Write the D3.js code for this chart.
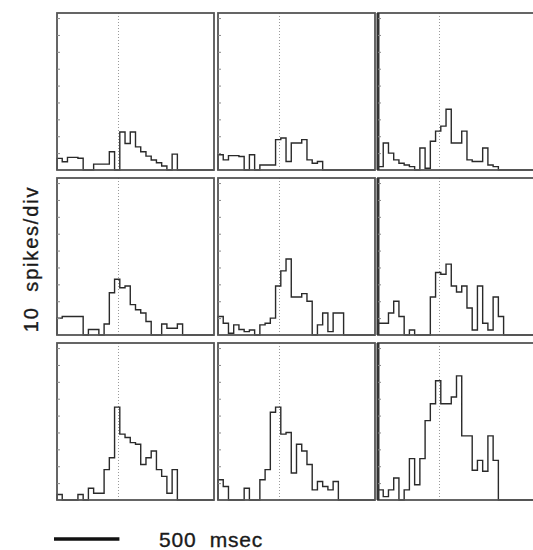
<!DOCTYPE html>
<html>
<head>
<meta charset="utf-8">
<script src="https://cdn.jsdelivr.net/npm/d3@7/dist/d3.min.js"></script>
<style>
  body { margin: 0; background: #fff; }
  text { font-family: "Liberation Sans", Arial, sans-serif; fill: #1a1a1a; stroke: #1a1a1a; stroke-width: 0.35; }
</style>
</head>
<body>
<svg id="chart" width="533" height="550"></svg>
<script>
// time axis of each histogram (msec)
var binMs = 40;
var spanMs = 1200;
var eventMs = 470;
var scaleBarMs = 500;
// spike rate axis
var divTicks = [10, 20, 30, 40, 50, 60, 70, 80, 90];
var rateMax = 93;

// spikes/s per 40 ms bin, panels read row by row
var p1 = [6.9, 4.9, 7.5, 7.5, 7, 0, 0, 3.5, 3.5, 3.5, 10.8, 0, 22.5, 15.7, 22.5, 13.7, 10.8, 8.2, 5.9, 4.3, 2.4, 0, 9.4, 0, 0, 0, 0, 0, 0, 0];
var p2 = [9, 6, 8.5, 8.5, 8, 0, 9, 0, 3, 3, 3, 18, 19, 5, 16, 16, 18, 6, 4, 5, 0, 0, 0, 0, 0, 0, 0, 0, 0, 0];
var p3 = [2, 16, 10, 6, 4, 3, 2, 0, 13, 1, 17, 23, 26, 36, 16, 16, 23, 6, 5, 5, 13, 3, 2, 0, 0, 0, 0, 0, 0, 0];
var p4 = [10, 11, 11, 11, 11, 0, 3.3, 3.3, 0, 6.5, 25, 33, 28, 29, 18, 15, 13, 8, 0, 0, 6.5, 4, 4, 6.5, 0, 0, 0, 0, 0, 0];
var p5 = [11, 7, 1, 6, 3.3, 2, 3, 0, 6, 7, 10, 29, 38, 45, 22.5, 22.5, 24.5, 20, 0, 6, 13, 2, 13, 13, 0, 0, 0, 0, 0, 0];
var p6 = [7, 7, 13, 20, 11, 0, 3, 0, 0, 0, 22.5, 37, 36, 42, 29, 25.5, 29, 16, 3, 29, 7, 3, 22.5, 11, 0, 0, 0, 0, 0, 0];
var p7 = [3.3, 0, 0, 0, 3.3, 0, 7, 4, 4, 18, 25, 55, 39, 37, 34, 33, 21, 25, 29, 18, 14, 4, 18, 0, 0, 0, 0, 0, 0, 0];
var p8 = [12, 8, 0, 0, 0, 7, 0, 0, 12, 18, 52, 55, 39, 40, 16, 33, 29, 21, 6, 11, 8, 6, 11, 0, 0, 0, 0, 0, 0, 0];
var p9 = [6, 2, 6, 13, 0, 6, 24.5, 9, 24.5, 47, 57, 70.6, 57, 57, 61, 73.5, 38, 38, 17.6, 23.5, 17, 38, 23.5, 0, 0, 0, 0, 0, 0, 0];

var panels = [p1, p2, p3, p4, p5, p6, p7, p8, p9];

var yLabel = "10  spikes/div";
var xLabel = "500  msec";

// layout
var colLeft = [57, 218, 378];
var rowTop = [13, 178, 343];
var pw = 157, ph = 157;

var svg = d3.select("#chart");

var x = d3.scaleLinear().domain([0, spanMs]).range([0, pw]);
var y = d3.scaleLinear().domain([0, rateMax]).range([ph, 0]);

var line = d3.line()
    .x(function (d) { return x(d[0]); })
    .y(function (d) { return y(d[1]); })
    .curve(d3.curveStepAfter);

function histPoints(vals) {
    var pts = [[0, 0]];
    vals.forEach(function (v, i) { pts.push([i * binMs, v]); });
    pts.push([vals.length * binMs, vals[vals.length - 1]]);
    pts.push([vals.length * binMs, 0]);
    return pts;
}

panels.forEach(function (vals, k) {
    var col = k % 3, row = Math.floor(k / 3);
    var g = svg.append("g")
        .attr("class", "panel")
        .attr("transform", "translate(" + colLeft[col] + "," + rowTop[row] + ")");

    // event marker
    g.append("line")
        .attr("x1", x(eventMs)).attr("x2", x(eventMs))
        .attr("y1", 0).attr("y2", ph)
        .attr("stroke", "#999")
        .attr("stroke-width", 1)
        .attr("stroke-dasharray", "1,2");

    // histogram
    g.append("path")
        .attr("d", line(histPoints(vals)))
        .attr("fill", "none")
        .attr("stroke", "#2a2a2a")
        .attr("stroke-width", 1.4);

    // frame
    g.append("rect")
        .attr("x", 0).attr("y", 0)
        .attr("width", pw).attr("height", ph)
        .attr("fill", "none")
        .attr("stroke", "#555")
        .attr("stroke-width", 1.8);

    // heavier left edge on the right-hand column
    if (col == 2) {
        g.append("line")
            .attr("x1", 0).attr("x2", 0)
            .attr("y1", 0).attr("y2", ph)
            .attr("stroke", "#333")
            .attr("stroke-width", 3);
    }

    // division ticks
    var ax = g.append("g")
        .call(d3.axisRight(y).tickValues(divTicks).tickSize(3).tickFormat(""));
    ax.select(".domain").remove();
    ax.selectAll("line").attr("stroke", "#888").attr("stroke-width", 1);
});

// y label
svg.append("text")
    .attr("transform", "translate(38,259) rotate(-90)")
    .attr("text-anchor", "middle")
    .attr("font-size", 20)
    .attr("letter-spacing", 1.8)
    .attr("xml:space", "preserve")
    .text(yLabel);

// scale bar
svg.append("line")
    .attr("x1", 54).attr("x2", 54 + x(scaleBarMs))
    .attr("y1", 539).attr("y2", 539)
    .attr("stroke", "#111")
    .attr("stroke-width", 3.5);

svg.append("text")
    .attr("x", 159).attr("y", 547)
    .attr("font-size", 21)
    .attr("letter-spacing", 0.8)
    .attr("xml:space", "preserve")
    .text(xLabel);
</script>
</body>
</html>
